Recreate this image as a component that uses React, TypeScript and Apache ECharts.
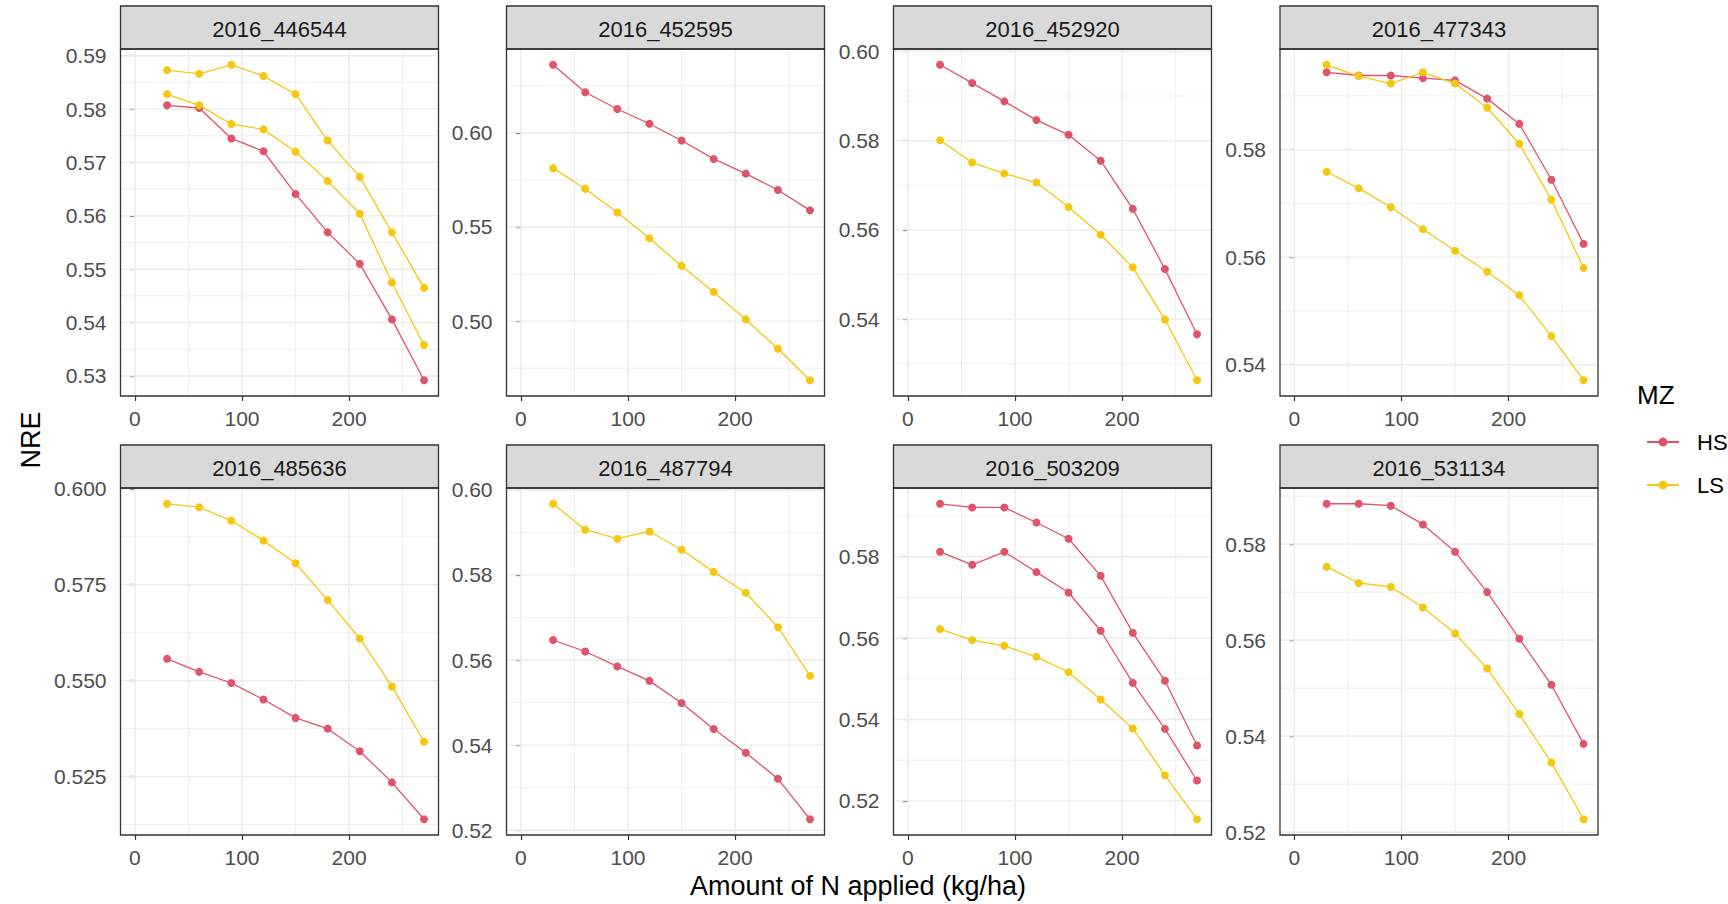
import React, { useEffect, useRef } from "react";
import * as echarts from "echarts";

// ---------- data ----------
const nApplied = [30, 60, 90, 120, 150, 180, 210, 240, 270];
const xTicks = [0, 100, 200];
const xMinor = [50, 150, 250];
const groups = ["HS", "LS"];

const hs_446544_a = [0.5807, 0.5802, 0.5745, 0.5721, 0.5641, 0.5569, 0.551, 0.5406, 0.5292];
const ls_446544_a = [0.5873, 0.5866, 0.5883, 0.5862, 0.5828, 0.5741, 0.5673, 0.5569, 0.5465];
const ls_446544_b = [0.5828, 0.5807, 0.5772, 0.5762, 0.572, 0.5665, 0.5604, 0.5475, 0.5358];

const hs_452595_a = [0.6361, 0.6215, 0.6126, 0.6048, 0.5959, 0.5861, 0.5783, 0.5696, 0.5588];
const ls_452595_a = [0.5812, 0.5703, 0.5577, 0.544, 0.5293, 0.5155, 0.5009, 0.4853, 0.4686];

const hs_452920_a = [0.597, 0.5929, 0.5888, 0.5846, 0.5813, 0.5755, 0.5647, 0.5512, 0.5366];
const ls_452920_a = [0.5801, 0.5751, 0.5726, 0.5706, 0.5651, 0.5589, 0.5516, 0.5399, 0.5263];

const hs_477343_a = [0.5944, 0.5938, 0.5938, 0.5933, 0.5929, 0.5895, 0.5848, 0.5744, 0.5625];
const ls_477343_a = [0.5958, 0.5937, 0.5923, 0.5944, 0.5923, 0.5878, 0.5811, 0.5707, 0.558];
const ls_477343_b = [0.5759, 0.5728, 0.5693, 0.5652, 0.5612, 0.5573, 0.5529, 0.5453, 0.5371];

const hs_485636_a = [0.5557, 0.5523, 0.5494, 0.5451, 0.5403, 0.5375, 0.5316, 0.5235, 0.5139];
const ls_485636_a = [0.5961, 0.5952, 0.5917, 0.5865, 0.5806, 0.571, 0.561, 0.5485, 0.5341];

const hs_487794_a = [0.5647, 0.562, 0.5585, 0.5551, 0.5499, 0.5438, 0.5382, 0.5321, 0.5226];
const ls_487794_a = [0.5967, 0.5906, 0.5885, 0.5902, 0.5859, 0.5807, 0.5758, 0.5677, 0.5563];

const hs_503209_a = [0.593, 0.5921, 0.5921, 0.5884, 0.5844, 0.5753, 0.5613, 0.5495, 0.5336];
const hs_503209_b = [0.5812, 0.578, 0.5812, 0.5762, 0.5712, 0.5618, 0.549, 0.5377, 0.525];
const ls_503209_a = [0.5622, 0.5595, 0.5581, 0.5554, 0.5516, 0.5449, 0.5378, 0.5263, 0.5155];

const hs_531134_a = [0.5884, 0.5884, 0.588, 0.5841, 0.5784, 0.57, 0.5603, 0.5507, 0.5384];
const ls_531134_a = [0.5753, 0.5719, 0.5711, 0.5668, 0.5614, 0.5541, 0.5446, 0.5345, 0.5227];

const yTicks_446544 = [0.53, 0.54, 0.55, 0.56, 0.57, 0.58, 0.59];
const yTicks_452595 = [0.5, 0.55, 0.6];
const yTicks_452920 = [0.54, 0.56, 0.58, 0.6];
const yTicks_477343 = [0.54, 0.56, 0.58];
const yTicks_485636 = [0.525, 0.55, 0.575, 0.6];
const yTicks_487794 = [0.52, 0.54, 0.56, 0.58, 0.6];
const yTicks_503209 = [0.52, 0.54, 0.56, 0.58];
const yTicks_531134 = [0.52, 0.54, 0.56, 0.58];

const panels = [
  { id: "2016_446544", HS: [hs_446544_a], LS: [ls_446544_a, ls_446544_b], ticks: yTicks_446544, dec: 2 },
  { id: "2016_452595", HS: [hs_452595_a], LS: [ls_452595_a], ticks: yTicks_452595, dec: 2 },
  { id: "2016_452920", HS: [hs_452920_a], LS: [ls_452920_a], ticks: yTicks_452920, dec: 2 },
  { id: "2016_477343", HS: [hs_477343_a], LS: [ls_477343_a, ls_477343_b], ticks: yTicks_477343, dec: 2 },
  { id: "2016_485636", HS: [hs_485636_a], LS: [ls_485636_a], ticks: yTicks_485636, dec: 3 },
  { id: "2016_487794", HS: [hs_487794_a], LS: [ls_487794_a], ticks: yTicks_487794, dec: 2 },
  { id: "2016_503209", HS: [hs_503209_a, hs_503209_b], LS: [ls_503209_a], ticks: yTicks_503209, dec: 2 },
  { id: "2016_531134", HS: [hs_531134_a], LS: [ls_531134_a], ticks: yTicks_531134, dec: 2 },
];

// ---------- style / layout ----------
const COLORS: Record<string, string> = { HS: "#DF536B", LS: "#F5C710" };
const FONT = "Liberation Sans, Arial, sans-serif";
const X_MIN = -13.5;
const X_MAX = 283.5;
const colLeft = [120.5, 506.5, 893.5, 1280];
const panelW = 318;
const stripTop = [6, 445];
const stripH = 43;
const plotTop = [49, 488];
const plotH = 347;

function gridSeries(i: number, pts: number[][], width: number) {
  return {
    type: "line",
    name: "_grid",
    xAxisIndex: i,
    yAxisIndex: i,
    data: pts,
    symbol: "none",
    showSymbol: false,
    silent: true,
    z: 1,
    lineStyle: { color: "#EBEBEB", width },
    emphasis: { disabled: true },
  };
}

function buildOption() {
  const grid: any[] = [];
  const xAxis: any[] = [];
  const yAxis: any[] = [];
  const series: any[] = [];
  const graphic: any[] = [];

  panels.forEach((p, i) => {
    const col = i % 4;
    const row = Math.floor(i / 4);
    const left = colLeft[col];
    const top = plotTop[row];
    grid.push({ left, top, width: panelW, height: plotH, show: true, backgroundColor: "#FFFFFF", borderWidth: 0 });

    const all = [...p.HS, ...p.LS].flat();
    const lo = Math.min(...all);
    const hi = Math.max(...all);
    const pad = (hi - lo) * 0.05;
    const yMin = lo - pad;
    const yMax = hi + pad;
    const step = p.ticks[1] - p.ticks[0];
    const yMinor: number[] = [];
    for (let k = -1; k < p.ticks.length; k++) {
      const v = p.ticks[0] + step * (k + 0.5);
      if (v > yMin && v < yMax) yMinor.push(v);
    }

    xAxis.push({
      gridIndex: i,
      type: "value",
      min: X_MIN,
      max: X_MAX,
      axisLine: { show: false },
      axisTick: { show: true, customValues: xTicks, length: 5, lineStyle: { color: "#333333", width: 1.2 } },
      axisLabel: { customValues: xTicks, fontSize: 21, color: "#4D4D4D", margin: 12, fontFamily: FONT },
      splitLine: { show: false },
    });
    yAxis.push({
      gridIndex: i,
      type: "value",
      min: yMin,
      max: yMax,
      axisLine: { show: false },
      axisTick: { show: true, customValues: p.ticks, length: 5, lineStyle: { color: "#333333", width: 1.2 } },
      axisLabel: {
        customValues: p.ticks,
        fontSize: 21,
        color: "#4D4D4D",
        margin: 14,
        fontFamily: FONT,
        formatter: (v: number) => v.toFixed(p.dec),
      },
      splitLine: { show: false },
    });

    // grid lines (ggplot theme_bw style), drawn through the axes' scales
    xMinor.forEach((v) => series.push(gridSeries(i, [[v, yMin], [v, yMax]], 0.8)));
    yMinor.forEach((v) => series.push(gridSeries(i, [[X_MIN, v], [X_MAX, v]], 0.8)));
    xTicks.forEach((v) => series.push(gridSeries(i, [[v, yMin], [v, yMax]], 1.4)));
    p.ticks.forEach((v) => series.push(gridSeries(i, [[X_MIN, v], [X_MAX, v]], 1.4)));

    groups.forEach((g) => {
      (p as any)[g].forEach((vals: number[]) => {
        series.push({
          type: "line",
          name: g,
          xAxisIndex: i,
          yAxisIndex: i,
          data: nApplied.map((x, k) => [x, vals[k]]),
          symbol: "circle",
          symbolSize: 8,
          showSymbol: true,
          lineStyle: { color: COLORS[g], width: 1.3 },
          itemStyle: { color: COLORS[g] },
          emphasis: { disabled: true },
          silent: true,
          z: 3,
        });
      });
    });

    // strip
    graphic.push({
      type: "rect",
      z: 100,
      shape: { x: left, y: stripTop[row], width: panelW, height: stripH },
      style: { fill: "#D9D9D9", stroke: "#333333", lineWidth: 1.3 },
    });
    graphic.push({
      type: "text",
      z: 101,
      x: left + panelW / 2,
      y: stripTop[row] + stripH / 2 + 1.5,
      style: { text: p.id, align: "center", verticalAlign: "middle", fontSize: 22, fontFamily: FONT, fill: "#1A1A1A" },
    });
    // panel border
    graphic.push({
      type: "rect",
      z: 100,
      shape: { x: left, y: top, width: panelW, height: plotH },
      style: { fill: "none", stroke: "#333333", lineWidth: 1.3 },
    });
  });

  graphic.push({
    type: "text",
    z: 101,
    x: 31,
    y: 440,
    rotation: Math.PI / 2,
    style: { text: "NRE", align: "center", verticalAlign: "middle", fontSize: 27, fontFamily: FONT, fill: "#000000" },
  });
  graphic.push({
    type: "text",
    z: 101,
    x: 858,
    y: 886,
    style: {
      text: "Amount of N applied (kg/ha)",
      align: "center",
      verticalAlign: "middle",
      fontSize: 27,
      fontFamily: FONT,
      fill: "#000000",
    },
  });
  graphic.push({
    type: "text",
    z: 101,
    x: 1637,
    y: 395,
    style: { text: "MZ", align: "left", verticalAlign: "middle", fontSize: 26, fontFamily: FONT, fill: "#000000" },
  });

  return {
    animation: false,
    backgroundColor: "#FFFFFF",
    grid,
    xAxis,
    yAxis,
    series,
    graphic,
    legend: {
      data: groups,
      orient: "vertical",
      left: 1641,
      top: 426,
      itemWidth: 32,
      itemHeight: 11,
      itemGap: 21,
      selectedMode: false,
      textStyle: { fontSize: 22, color: "#000000", fontFamily: FONT, padding: [0, 0, 0, 13] },
    },
  };
}

export default function App() {
  const ref = useRef<HTMLDivElement>(null);
  useEffect(() => {
    document.body.style.margin = "0";
    if (!ref.current) return;
    const chart = echarts.init(ref.current, undefined, { renderer: "svg" });
    chart.setOption(buildOption() as any);
    return () => chart.dispose();
  }, []);
  return <div ref={ref} style={{ width: 1728, height: 904 }} />;
}
